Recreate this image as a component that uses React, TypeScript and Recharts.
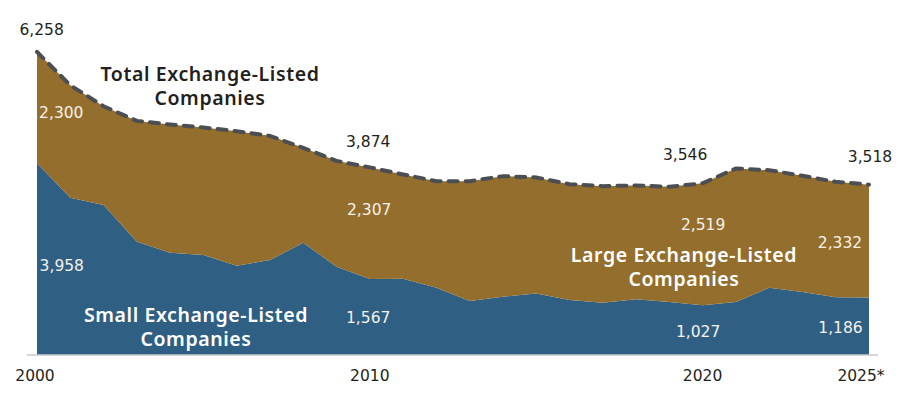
import React from "react";
import { Area, ComposedChart, LabelList, Line, ReferenceLine, XAxis, YAxis } from "recharts";

// listed companies per year
const years = [
  2000, 2001, 2002, 2003, 2004, 2005, 2006, 2007, 2008, 2009, 2010, 2011, 2012,
  2013, 2014, 2015, 2016, 2017, 2018, 2019, 2020, 2021, 2022, 2023, 2024, 2025
];
const small = [
  3958, 3246, 3095, 2338, 2111, 2063, 1843, 1960, 2317, 1822, 1567, 1575, 1389,
  1114, 1203, 1272, 1135, 1080, 1149, 1093, 1027, 1093, 1389, 1300, 1190, 1186
];
const large = [
  2300, 2324, 2042, 2496, 2648, 2634, 2778, 2565, 1960, 2187, 2307, 2152, 2201,
  2476, 2490, 2394, 2393, 2407, 2352, 2380, 2519, 2759, 2428, 2400, 2386, 2332
];
const xTicks = [2000, 2010, 2020, 2025];
const tickText: Record<number, string> = { 2000: "2000", 2010: "2010", 2020: "2020", 2025: "2025*" };

const data = years.map((year, i) => ({
  year,
  small: small[i],
  large: large[i],
  total: small[i] + large[i]
}));

const BROWN = "#946e2d";
const BLUE = "#2f5f83";
const DARK = "#231f20";
const LIGHT = "#f6f1ea";
const numFont = "'DejaVu Sans', sans-serif";
const titleFont = "'Noto Sans', sans-serif";

// label offsets (px) from the series point, only for annotated years
const totalOffsets: Record<number, [number, number]> = { 0: [4.6, -21.7], 10: [-1.6, -25.2], 20: [-17.5, -28.1], 25: [1, -27.5] };
const largeOffsets: Record<number, [number, number]> = { 0: [24.3, 61], 10: [-0.6, 42.8], 20: [0.5, 41.9], 25: [-29, 58.5] };
const smallOffsets: Record<number, [number, number]> = { 0: [24.8, 102.8], 10: [-1.6, 39], 20: [-4.5, 26.5], 25: [-28.5, 30.5] };

const makeLabel = (values: number[], offsets: Record<number, [number, number]>, color: string) =>
  (props: any) => {
    const { x, y, index } = props;
    const off = offsets[index];
    if (!off) return null;
    return (
      <text
        x={x + off[0]}
        y={y + off[1]}
        textAnchor="middle"
        dominantBaseline="central"
        fill={color}
        fontFamily={numFont}
        fontSize={15.5}
      >
        {values[index].toLocaleString("en-US")}
      </text>
    );
  };

const totals = data.map((d) => d.total);

const YearTick = (props: any) => {
  const { x, y, payload } = props;
  const dx = payload.value === 2025 ? -8 : payload.value === 2000 ? -2 : 0;
  return (
    <text x={x + dx} y={y + 13} textAnchor="middle" dominantBaseline="central" fill={DARK} fontFamily={numFont} fontSize={15.5}>
      {tickText[payload.value]}
    </text>
  );
};

const Title = ({ x, y, lines, color }: { x: number; y: number; lines: string[]; color: string }) => (
  <text textAnchor="middle" fill={color} fontFamily={titleFont} fontWeight={600} fontSize={19.5} letterSpacing={0.6}>
    {lines.map((l, i) => (
      <tspan key={l} x={x} y={y + i * 24} dominantBaseline="central">
        {l}
      </tspan>
    ))}
  </text>
);

export default function App() {
  return (
    <div style={{ position: "absolute", left: 0, top: 0, width: 904, height: 394, background: "#fff" }}>
      <ComposedChart width={904} height={394} data={data} margin={{ top: 16, right: 35, bottom: 0, left: 37 }}>
        <XAxis
          dataKey="year"
          type="number"
          domain={[2000, 2025]}
          ticks={xTicks}
          axisLine={false}
          tickLine={false}
          height={39}
          tick={<YearTick />}
        />
        <YAxis hide domain={[0, 7000]} />
        <Area type="linear" dataKey="small" stackId="a" fill={BLUE} fillOpacity={1} stroke="none" isAnimationActive={false}>
          <LabelList content={makeLabel(small, smallOffsets, LIGHT)} />
        </Area>
        <Area type="linear" dataKey="large" stackId="a" fill={BROWN} fillOpacity={1} stroke="none" isAnimationActive={false}>
          <LabelList content={makeLabel(large, largeOffsets, LIGHT)} />
        </Area>
        <ReferenceLine
          segment={[{ x: 1999.7, y: 0 }, { x: 2025.27, y: 0 }]}
          stroke="#c9c9c9"
          strokeWidth={1.5}
          ifOverflow="visible"
        />
        <Line
          type="linear"
          dataKey="total"
          stroke="#4b4e53"
          strokeWidth={4}
          strokeDasharray="9 8"
          strokeLinecap="round"
          dot={false}
          isAnimationActive={false}
        >
          <LabelList content={makeLabel(totals, totalOffsets, DARK)} />
        </Line>
      </ComposedChart>
      <svg width={904} height={394} style={{ position: "absolute", left: 0, top: 0, pointerEvents: "none" }}>
        <Title x={210} y={73} lines={["Total Exchange-Listed", "Companies"]} color={DARK} />
        <Title x={196} y={314} lines={["Small Exchange-Listed", "Companies"]} color="#ffffff" />
        <Title x={684} y={254} lines={["Large Exchange-Listed", "Companies"]} color="#ffffff" />
      </svg>
    </div>
  );
}
